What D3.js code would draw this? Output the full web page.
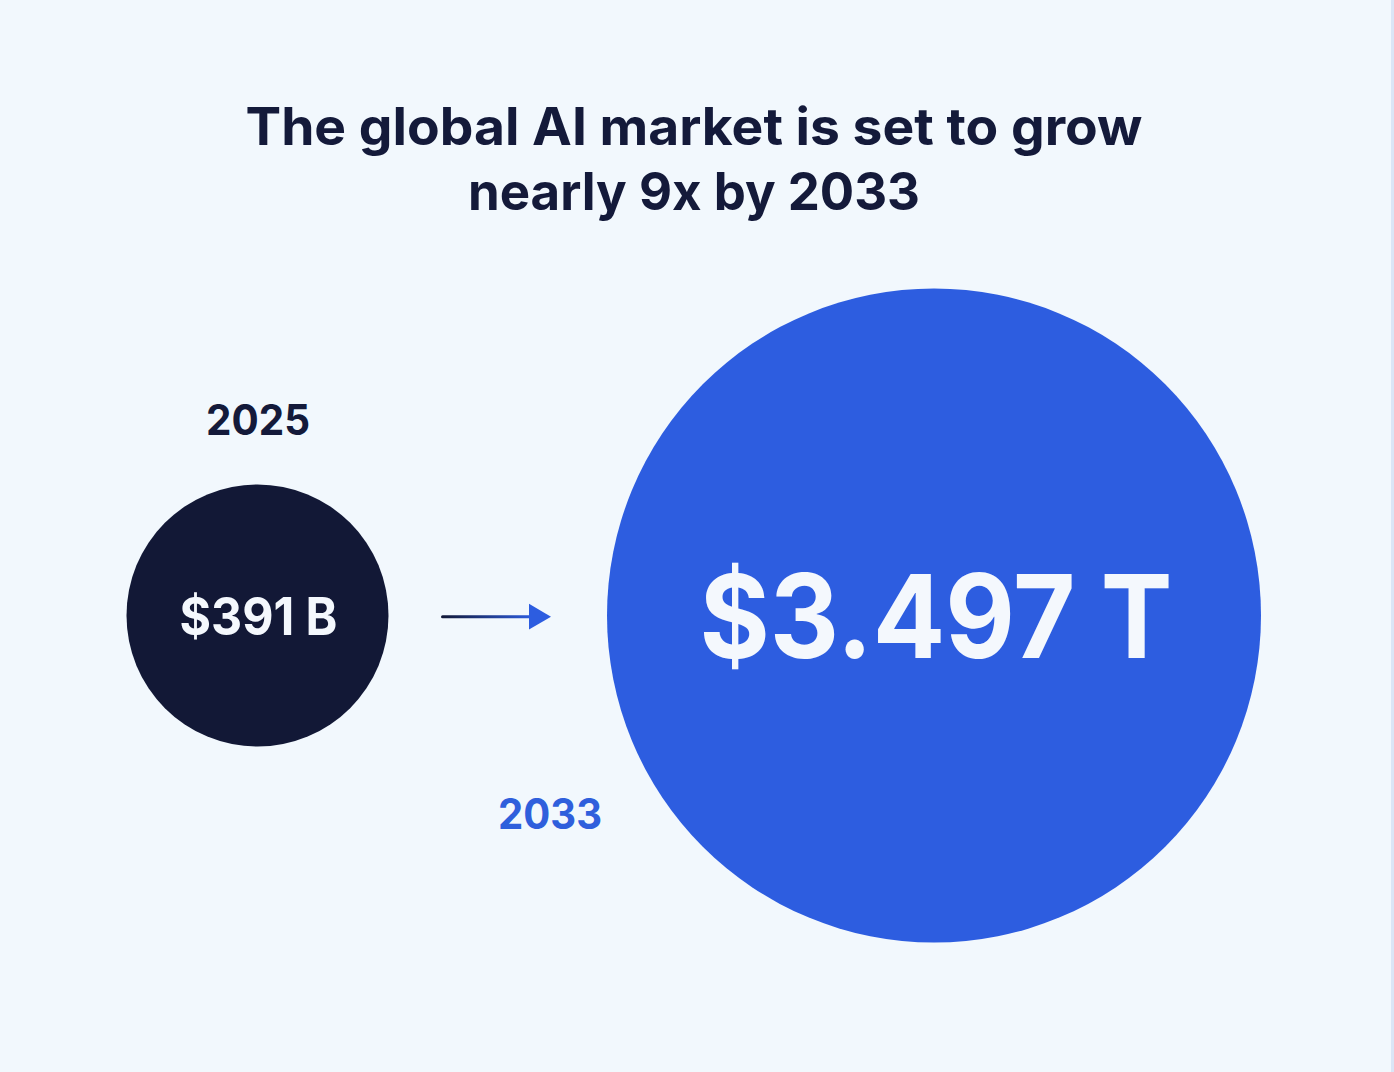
<!DOCTYPE html>
<html><head><meta charset="utf-8">
<script src="https://cdn.jsdelivr.net/npm/d3@7"></script>
<style>
html,body{margin:0;padding:0;background:#f2f8fd;}
svg{display:block;font-family:Inter,"Noto Sans",sans-serif;}
</style></head>
<body>
<script>
const titleLines = ["The global AI market is set to grow", "nearly 9x by 2033"];
const years = ["2025", "2033"];
const values = [391, 3497];           // billions USD
const valueLabels = ["$391 B", "$3.497 T"];
const fills = ["#121836", "#2d5de0"];
const yearColors = ["#141a3a", "#2f5fdc"];

const W = 1394, H = 1072;
const svg = d3.select("body").append("svg").attr("width", W).attr("height", H);
svg.append("rect").attr("width", W).attr("height", H).attr("fill", "#f2f8fd");
svg.append("rect").attr("x", W - 3).attr("y", 0).attr("width", 3).attr("height", H).attr("fill", "#dbe6f7");

const data = years.map((y, i) => ({year: y, value: values[i], label: valueLabels[i], fill: fills[i], yc: yearColors[i]}));

const x = d3.scalePoint().domain(years).range([257.5, 934]);
const r = d3.scaleSqrt().domain([391, 3497]).range([131, 327]);
const cy = 615.5;

function fit(sel, w) { sel.attr("textLength", w).attr("lengthAdjust", "spacingAndGlyphs"); }

// title
const tl = [[694, 145, 897], [694, 210, 452]];
titleLines.forEach((t, i) => {
  svg.append("text").attr("x", tl[i][0]).attr("y", tl[i][1]).attr("text-anchor", "middle")
    .attr("font-size", 52).attr("font-weight", 700).attr("fill", "#141a3a").text(t)
    .call(fit, tl[i][2]);
});

// arrow
const defs = svg.append("defs");
const grad = defs.append("linearGradient").attr("id", "ag").attr("x1", "0%").attr("x2", "100%");
grad.append("stop").attr("offset", "0%").attr("stop-color", fills[0]);
grad.append("stop").attr("offset", "100%").attr("stop-color", fills[1]);
svg.append("rect").attr("x", 441).attr("y", cy - 0.3).attr("width", 92).attr("height", 3).attr("rx", 1.5).attr("fill", "url(#ag)");
svg.append("path").attr("d", `M529,${cy - 11.7} L551,${cy + 1.2} L529,${cy + 14.1} Z`).attr("fill", fills[1]);

// circles
svg.selectAll("circle.b").data(data).join("circle").attr("class", "b")
  .attr("cx", d => x(d.year)).attr("cy", cy).attr("r", d => r(d.value)).attr("fill", d => d.fill);

// value labels
const vl = [{fs: 52, base: 635, w: 158, dx: 1}, {fs: 116, base: 658, w: 473, dx: 2}];
svg.selectAll("text.v").data(data).join("text").attr("class", "v")
  .attr("x", (d, i) => x(d.year) + vl[i].dx).attr("y", (d, i) => vl[i].base)
  .attr("text-anchor", "middle").attr("font-size", (d, i) => vl[i].fs).attr("font-weight", 700)
  .attr("fill", "#f4f8fd").text(d => d.label)
  .each(function(d, i) { d3.select(this).call(fit, vl[i].w); });

// year labels
const yl = [{x: 258, y: 435}, {x: 550, y: 829}];
svg.selectAll("text.y").data(data).join("text").attr("class", "y")
  .attr("x", (d, i) => yl[i].x).attr("y", (d, i) => yl[i].y)
  .attr("text-anchor", "middle").attr("font-size", 42).attr("font-weight", 700)
  .attr("fill", d => d.yc).text(d => d.year)
  .each(function() { d3.select(this).call(fit, 104); });
</script>
</body></html>
